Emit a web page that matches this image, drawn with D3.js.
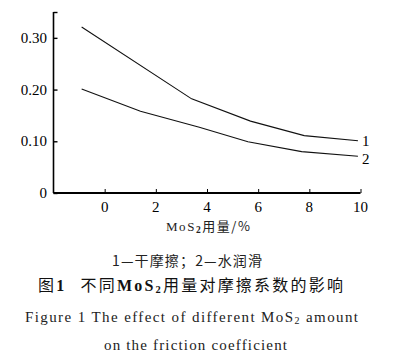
<!DOCTYPE html>
<html><head><meta charset="utf-8">
<script src="https://cdn.jsdelivr.net/npm/d3@7/dist/d3.min.js"></script>
<style>body{margin:0;background:#fff}svg{display:block}</style>
</head><body>
<script>
const xTicks = [0, 2, 4, 6, 8, 10];
const yTicks = [0, 0.10, 0.20, 0.30];
const yTickLabels = ["0", "0.10", "0.20", "0.30"];
const series1X = [-0.9, 3.4, 5.7, 7.8, 9.9];
const series1Y = [0.321, 0.182, 0.139, 0.111, 0.101];
const series2X = [-0.9, 1.4, 3.7, 5.6, 7.7, 9.9];
const series2Y = [0.201, 0.158, 0.127, 0.099, 0.080, 0.071];
const seriesLabels = ["1", "2"];

const W = 405, H = 357;
const svg = d3.select("body").append("svg").attr("width", W).attr("height", H);
const x = d3.scaleLinear().domain([-2, 10]).range([53.5, 360.5]);
const y = d3.scaleLinear().domain([0, 0.35]).range([193, 12]);
const serif = "'Liberation Serif','DejaVu Serif',serif";
const cjk = "'Noto Sans CJK SC',sans-serif";

// y axis
const gy = svg.append("g").attr("transform", `translate(${x(-2)},0)`)
  .call(d3.axisRight(y).tickValues([0, 0.1, 0.2, 0.3, 0.35]).tickSize(4).tickFormat(""));
gy.select(".domain").attr("stroke-width", 1.6).attr("d", `M0,${y(0.35)}V${y(0)}`);
gy.selectAll(".tick line").attr("stroke-width", 1.4);
svg.append("g").selectAll("text").data(yTicks).join("text")
  .attr("x", 47).attr("y", d => y(d) + 5)
  .attr("text-anchor", "end").attr("font-family", serif).attr("font-size", 15)
  .text((d, i) => yTickLabels[i]);

// x axis
const gx = svg.append("g").attr("transform", `translate(0,${y(0)})`)
  .call(d3.axisTop(x).tickValues(xTicks).tickSize(4).tickFormat(""));
gx.select(".domain").attr("stroke-width", 2.2).attr("d", `M${x(-2)},0H${x(10)}`);
gx.selectAll(".tick line").attr("stroke-width", 1);
svg.append("g").selectAll("text").data(xTicks).join("text")
  .attr("x", d => x(d)).attr("y", 212)
  .attr("text-anchor", "middle").attr("font-family", serif).attr("font-size", 15)
  .text(d => d);

// lines
const line = d3.line().x(d => x(d[0])).y(d => y(d[1]));
const s1 = series1X.map((v, i) => [v, series1Y[i]]);
const s2 = series2X.map((v, i) => [v, series2Y[i]]);
svg.append("path").attr("d", line(s1)).attr("fill", "none").attr("stroke", "#111").attr("stroke-width", 1.1);
svg.append("path").attr("d", line(s2)).attr("fill", "none").attr("stroke", "#111").attr("stroke-width", 1.1);
[s1, s2].forEach((s, i) => {
  const last = s[s.length - 1];
  svg.append("text").attr("x", x(last[0]) + 4).attr("y", y(last[1]) + 5 + (i ? 3 : 0))
    .attr("font-family", serif).attr("font-size", 15).text(seriesLabels[i]);
});

// x axis title
const xt = svg.append("text").attr("x", 166).attr("y", 231)
  .attr("font-size", 13).attr("fill", "#222")
  .attr("textLength", 84).attr("lengthAdjust", "spacing");
xt.append("tspan").attr("font-family", serif).text("MoS");
xt.append("tspan").attr("font-family", serif).attr("font-size", 9.5).attr("font-weight", "bold").attr("dy", 2).text("2");
xt.append("tspan").attr("font-family", cjk).attr("dy", -2).text("用量/%");

// legend note
svg.append("text").attr("x", 112).attr("y", 266)
  .attr("font-family", cjk).attr("font-size", 14).attr("fill", "#222")
  .attr("textLength", 150).attr("lengthAdjust", "spacing")
  .text("1—干摩擦；2—水润滑");

// Chinese caption
const ct = svg.append("text").attr("x", 38).attr("y", 291)
  .attr("font-size", 16).attr("fill", "#111")
  .attr("textLength", 305).attr("lengthAdjust", "spacing");
ct.append("tspan").attr("font-family", cjk).text("图");
ct.append("tspan").attr("font-family", serif).attr("font-weight", "bold").text("1");
ct.append("tspan").attr("font-family", cjk).attr("dx", 14).text("不同");
ct.append("tspan").attr("font-family", serif).attr("font-weight", "bold").text("MoS");
ct.append("tspan").attr("font-family", serif).attr("font-weight", "bold").attr("font-size", 10.5).attr("dy", 2).text("2");
ct.append("tspan").attr("font-family", cjk).attr("dy", -2).text("用量对摩擦系数的影响");

// English caption
const e1 = svg.append("text").attr("x", 25).attr("y", 322)
  .attr("font-family", serif).attr("font-size", 15).attr("fill", "#222")
  .attr("textLength", 333).attr("lengthAdjust", "spacing");
e1.append("tspan").text("Figure 1  The effect of different MoS");
e1.append("tspan").attr("font-size", 10).attr("dy", 2).text("2");
e1.append("tspan").attr("dy", -2).text(" amount");
svg.append("text").attr("x", 104).attr("y", 350)
  .attr("font-family", serif).attr("font-size", 15).attr("fill", "#222")
  .attr("textLength", 183).attr("lengthAdjust", "spacing")
  .text("on the friction coefficient");
</script>
</body></html>
